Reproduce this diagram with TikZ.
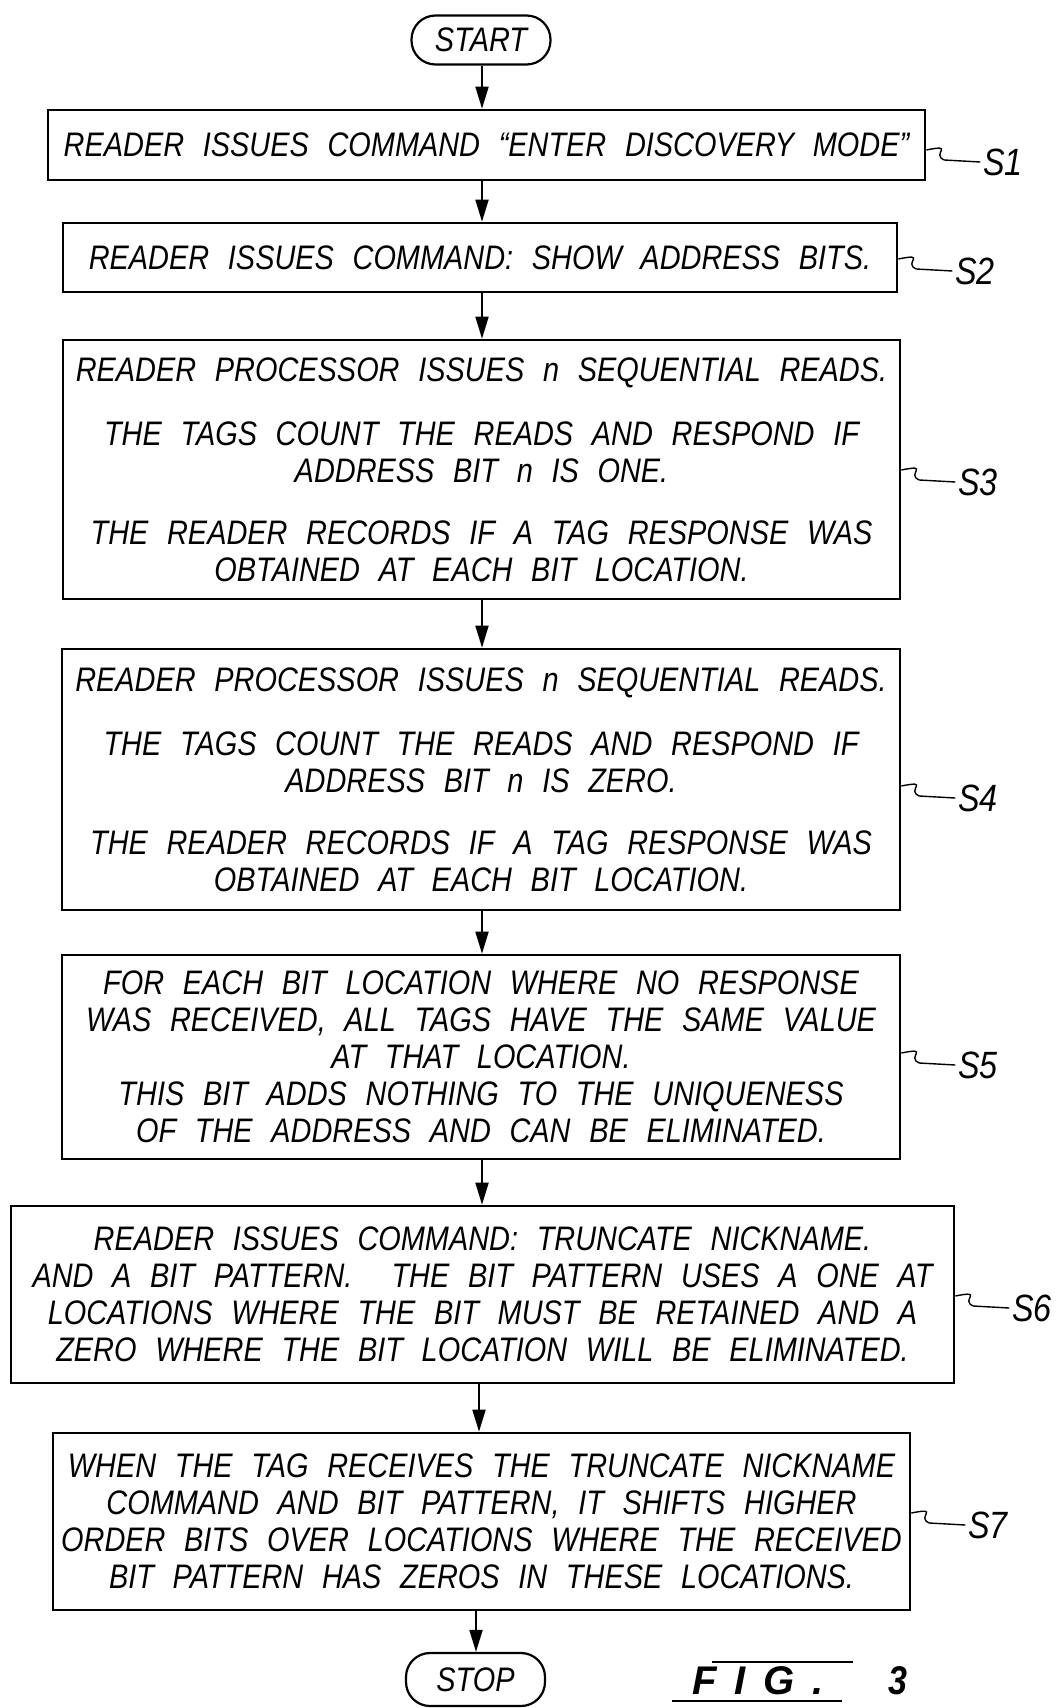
\documentclass[tikz,border=0pt]{standalone}
\usepackage{fontspec}
\newfontfamily\pf{Liberation Sans}[FakeStretch=0.85]
\newfontfamily\pfwide{Liberation Sans}[LetterSpace=45]
\usetikzlibrary{arrows.meta}
\begin{document}
\begin{tikzpicture}[x=1pt,y=-1pt,
  txt/.style={font={\pf\itshape\fontsize{34}{37}\selectfont\spaceskip=0.55em plus 0.1em}},
  stepbox/.style={draw,line width=2.6pt,txt,align=center,inner sep=0pt},
  term/.style={draw,line width=2.2pt,txt,rounded corners=24pt,inner sep=0pt},
  arr/.style={line width=1.8pt,-{Triangle[width=13pt,length=22pt]}},
  sq/.style={line width=1.4pt},
  lab/.style={font={\pf\itshape\fontsize{38}{38}\selectfont},anchor=west}]
\useasboundingbox (0,0) rectangle (1063,1708);

\node[term,minimum width=139pt,minimum height=49pt] (start) at (481,40) {START};
\node[stepbox,minimum width=877pt,minimum height=70pt] (s1) at (486.5,145) {READER ISSUES COMMAND “ENTER DISCOVERY MODE”};
\node[stepbox,minimum width=834pt,minimum height=69pt] (s2) at (480,257.5) {READER ISSUES COMMAND: SHOW ADDRESS BITS.};
\node[stepbox,minimum width=837pt,minimum height=259pt] (s3) at (481.5,469.5) {READER PROCESSOR ISSUES n SEQUENTIAL READS.\\[27pt]
THE TAGS COUNT THE READS AND RESPOND IF\\ ADDRESS BIT n IS ONE.\\[25pt]
THE READER RECORDS IF A TAG RESPONSE WAS\\ OBTAINED AT EACH BIT LOCATION.};
\node[stepbox,minimum width=838pt,minimum height=261pt] (s4) at (481,779.5) {READER PROCESSOR ISSUES n SEQUENTIAL READS.\\[27pt]
THE TAGS COUNT THE READS AND RESPOND IF\\ ADDRESS BIT n IS ZERO.\\[25pt]
THE READER RECORDS IF A TAG RESPONSE WAS\\ OBTAINED AT EACH BIT LOCATION.};
\node[stepbox,minimum width=838pt,minimum height=204pt] (s5) at (481,1057) {FOR EACH BIT LOCATION WHERE NO RESPONSE\\ WAS RECEIVED, ALL TAGS HAVE THE SAME VALUE\\ AT THAT LOCATION.\\ THIS BIT ADDS NOTHING TO THE UNIQUENESS\\ OF THE ADDRESS AND CAN BE ELIMINATED.};
\node[stepbox,minimum width=943pt,minimum height=177pt] (s6) at (482.5,1294.5) {READER ISSUES COMMAND: TRUNCATE NICKNAME.\\ AND A BIT PATTERN.\hspace{0.6em} THE BIT PATTERN USES A ONE AT\\ LOCATIONS WHERE THE BIT MUST BE RETAINED AND A\\ ZERO WHERE THE BIT LOCATION WILL BE ELIMINATED.};
\node[stepbox,minimum width=857pt,minimum height=177pt] (s7) at (481.5,1521.5) {WHEN THE TAG RECEIVES THE TRUNCATE NICKNAME\\ COMMAND AND BIT PATTERN, IT SHIFTS HIGHER\\ ORDER BITS OVER LOCATIONS WHERE THE RECEIVED\\ BIT PATTERN HAS ZEROS IN THESE LOCATIONS.};
\node[term,minimum width=139pt,minimum height=53pt] (stop) at (475.5,1679.5) {STOP};

% arrows
\coordinate (ca) at (482,0);
\coordinate (cb) at (479,0);
\coordinate (cc) at (476,0);
\draw[arr] (start.south -| ca) -- (s1.north -| ca);
\draw[arr] (s1.south -| ca) -- (s2.north -| ca);
\draw[arr] (s2.south -| ca) -- (s3.north -| ca);
\draw[arr] (s3.south -| ca) -- (s4.north -| ca);
\draw[arr] (s4.south -| ca) -- (s5.north -| ca);
\draw[arr] (s5.south -| ca) -- (s6.north -| ca);
\draw[arr] (s6.south -| cb) -- (s7.north -| cb);
\draw[arr] (s7.south -| cc) -- (stop.north -| cc);

% squiggle leaders and labels
\foreach \b/\y/\t in {s1/150/S1, s2/259/S2, s3/470/S3, s4/786/S4, s5/1053/S5, s6/1296/S6, s7/1513/S7}{
  \coordinate (q) at (\b.east |- 0,\y);
  \draw[sq] (q) .. controls +(30,-6) and +(-14,-6) .. ++(18,10) -- ++(36,2) node[lab,inner sep=2pt] (l\t) {\t};
}

% figure label
\node[font={\pfwide\itshape\bfseries\fontsize{40}{40}\selectfont}] (fig) at (758,1681) {FIG.};
\node[font={\pf\itshape\bfseries\fontsize{40}{40}\selectfont}] (three) at (898,1681) {3};
\draw[line width=1.6pt] (712,1662) -- (853,1662);
\draw[line width=1.6pt] (672,1701) -- (842,1701);
\end{tikzpicture}
\end{document}
